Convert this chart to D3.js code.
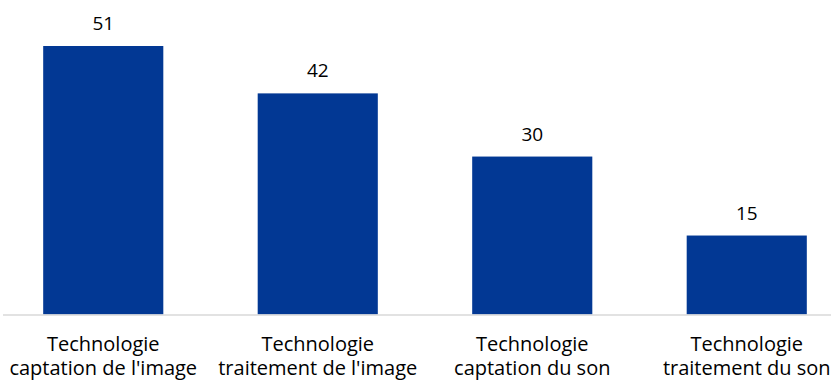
<html>
<head>
<script src="https://d3js.org/d3.v7.min.js"></script>
<style>
  body { margin: 0; background: #fff; }
  text { font-family: "Open Sans", "Liberation Sans", sans-serif; fill: #000; }
</style>
</head>
<body>
<script>
  // data
  const categories = [
    ["Technologie", "captation de l'image"],
    ["Technologie", "traitement de l'image"],
    ["Technologie", "captation du son"],
    ["Technologie", "traitement du son"]
  ];
  const values = [51, 42, 30, 15];

  const width = 831, height = 382;
  const baseline = 314.5;

  let svg = d3.select("body").append("svg")
      .attr("width", width)
      .attr("height", height);

  let x = d3.scaleBand()
      .domain(d3.range(categories.length))
      .range([-4, 854])
      .paddingInner(0.44)
      .paddingOuter(0.22);

  let y = d3.scaleLinear()
      .domain([0, 51])
      .range([baseline, 46]);

  // bars
  svg.selectAll("rect.bar")
    .data(values)
    .join("rect")
    .attr("class", "bar")
    .attr("x", (d, i) => x(i))
    .attr("y", d => y(d))
    .attr("width", x.bandwidth())
    .attr("height", d => baseline - y(d))
    .attr("fill", "#023894");

  // axis line
  svg.append("line")
    .attr("x1", 3)
    .attr("x2", width)
    .attr("y1", baseline + 0.5)
    .attr("y2", baseline + 0.5)
    .attr("stroke", "#d9d9d9")
    .attr("stroke-width", 1.5);

  // value labels
  svg.selectAll("text.value")
    .data(values)
    .join("text")
    .attr("class", "value")
    .attr("x", (d, i) => x(i) + x.bandwidth() / 2)
    .attr("y", d => y(d) - 16)
    .attr("text-anchor", "middle")
    .attr("font-size", 19)
    .text(d => d);

  // category labels
  let labels = svg.selectAll("text.cat")
    .data(categories)
    .join("text")
    .attr("class", "cat")
    .attr("text-anchor", "middle")
    .attr("font-size", 20);

  labels.each(function(d, i) {
    let t = d3.select(this);
    d.forEach((line, j) => {
      t.append("tspan")
        .attr("x", x(i) + x.bandwidth() / 2)
        .attr("y", 351 + j * 24)
        .text(line);
    });
  });
</script>
</body>
</html>
